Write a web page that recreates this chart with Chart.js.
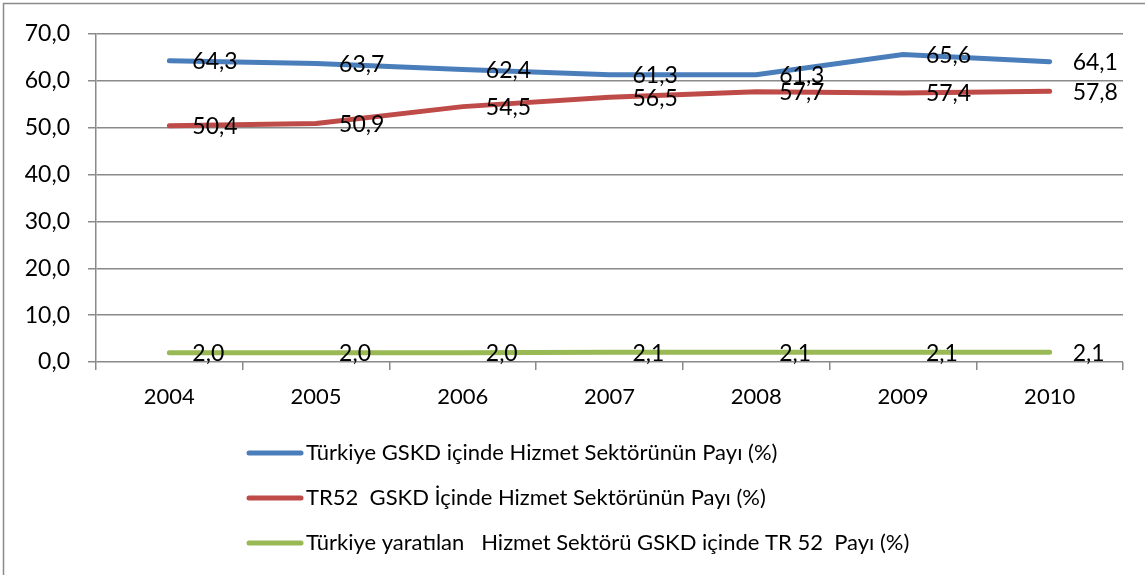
<!DOCTYPE html>
<html lang="tr">
  <head>
    <meta charset="UTF-8" />
    <script src="https://cdn.jsdelivr.net/npm/chart.js"></script>
    <title>Hizmet Sektörü</title>
    <style>
      html, body { margin: 0; padding: 0; background: #fff; }
      #wrap { width: 1145px; height: 575px; position: relative; }
    </style>
  </head>
  <body>
    <div id="wrap">
      <canvas id="chart" width="1145" height="575"></canvas>
    </div>
  </body>
</html>
<script>
  const years = ["2004", "2005", "2006", "2007", "2008", "2009", "2010"];
  const turkiyePayi = [64.3, 63.7, 62.4, 61.3, 61.3, 65.6, 64.1];
  const tr52Payi = [50.4, 50.9, 54.5, 56.5, 57.7, 57.4, 57.8];
  const tr52TurkiyePayi = [2.0, 2.0, 2.0, 2.1, 2.1, 2.1, 2.1];
  const seriesNames = [
    "Türkiye GSKD içinde Hizmet Sektörünün Payı (%)",
    "TR52  GSKD İçinde Hizmet Sektörünün Payı (%)",
    "Türkiye yaratılan   Hizmet Sektörü GSKD içinde TR 52  Payı (%)",
  ];
  const colors = ["#4a7ebb", "#be4b48", "#98b954"];

  const fontFamily = "Lato, 'Open Sans', sans-serif";
  const fmt = (v) => v.toFixed(1).replace(".", ",");

  // frame + data labels + legend drawn by hand (Excel look)
  const excelBits = {
    id: "excelBits",
    beforeDraw(chart) {
      const ctx = chart.ctx;
      ctx.save();
      ctx.strokeStyle = "#8a8a8a";
      ctx.lineWidth = 1.5;
      ctx.strokeRect(3.5, 3.5, chart.width + 10, chart.height + 10);
      ctx.restore();
    },
    afterDatasetsDraw(chart) {
      const ctx = chart.ctx;
      ctx.save();
      ctx.font = "23px " + fontFamily;
      ctx.fillStyle = "#000";
      ctx.textAlign = "left";
      ctx.textBaseline = "middle";
      chart.data.datasets.forEach((ds, i) => {
        chart.getDatasetMeta(i).data.forEach((pt, j) => {
          ctx.fillText(fmt(ds.data[j]), pt.x + 23, pt.y + 1);
        });
      });
      ctx.restore();
    },
    afterDraw(chart) {
      const ctx = chart.ctx;
      ctx.save();
      ctx.font = "22px " + fontFamily;
      ctx.textBaseline = "middle";
      chart.data.datasets.forEach((ds, i) => {
        const y = 453 + i * 45;
        ctx.strokeStyle = ds.borderColor;
        ctx.lineWidth = 5;
        ctx.lineCap = "round";
        ctx.beginPath();
        ctx.moveTo(249, y);
        ctx.lineTo(301, y);
        ctx.stroke();
        ctx.fillStyle = "#000";
        ctx.fillText(ds.label, 306, y);
      });
      ctx.restore();
    },
  };

  const datasets = [turkiyePayi, tr52Payi, tr52TurkiyePayi].map((d, i) => ({
    label: seriesNames[i],
    data: d,
    borderColor: colors[i],
    backgroundColor: colors[i],
    borderWidth: 5,
    borderCapStyle: "round",
    tension: 0,
    pointRadius: 0,
    pointHoverRadius: 0,
  }));

  new Chart(document.getElementById("chart").getContext("2d"), {
    type: "line",
    data: { labels: years, datasets: datasets },
    options: {
      responsive: false,
      animation: false,
      devicePixelRatio: 1,
      layout: { padding: { top: 34, right: 22, left: 0, bottom: 0 } },
      plugins: { legend: { display: false }, tooltip: { enabled: false } },
      scales: {
        x: {
          offset: true,
          grid: {
            display: true,
            offset: true,
            drawOnChartArea: false,
            drawTicks: true,
            tickLength: 8,
            color: "#8a8a8a",
            lineWidth: 1.5,
          },
          border: { display: false },
          ticks: { color: "#000", font: { family: fontFamily, size: 22 }, padding: 14 },
          afterFit(scale) {
            scale.height = 213;
          },
        },
        y: {
          min: 0,
          max: 70,
          ticks: {
            stepSize: 10,
            color: "#000",
            font: { family: fontFamily, size: 23 },
            padding: 18,
            callback: (v) => fmt(v),
          },
          grid: { color: "#8a8a8a", lineWidth: 1.5, tickLength: 8 },
          border: { display: true, color: "#8a8a8a", width: 1.5 },
          afterFit(scale) {
            scale.width = 96;
          },
        },
      },
    },
    plugins: [excelBits],
  });
</script>
